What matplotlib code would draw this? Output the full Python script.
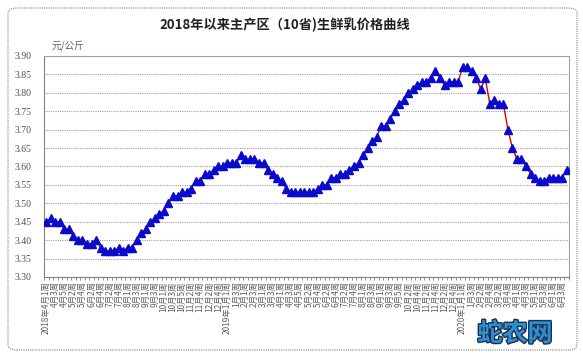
import matplotlib
matplotlib.use('Agg')
import matplotlib.pyplot as plt
from matplotlib.patches import FancyBboxPatch
import matplotlib.patheffects as pe
import numpy as np

plt.rcParams['font.family'] = ['Noto Sans CJK SC', 'DejaVu Sans']

# ---------------- data ----------------
title = "2018年以来主产区（10省)生鲜乳价格曲线"
unit_label = "元/公斤"

# (year, month, number of weeks shown)
month_weeks = [
    (2018, 4, 5), (2018, 5, 4), (2018, 6, 4), (2018, 7, 5), (2018, 8, 4),
    (2018, 9, 4), (2018, 10, 5), (2018, 11, 4), (2018, 12, 5),
    (2019, 1, 4), (2019, 2, 4), (2019, 3, 4), (2019, 4, 5), (2019, 5, 4),
    (2019, 6, 4), (2019, 7, 5), (2019, 8, 4), (2019, 9, 5), (2019, 10, 4),
    (2019, 11, 4), (2019, 12, 5),
    (2020, 1, 3), (2020, 2, 4), (2020, 3, 5), (2020, 4, 4), (2020, 5, 4),
    (2020, 6, 4),
]

prices = [
    3.45, 3.46, 3.45, 3.45, 3.43, 3.43, 3.41, 3.40, 3.40, 3.39,
    3.39, 3.40, 3.38, 3.37, 3.37, 3.37, 3.38, 3.37, 3.38, 3.38,
    3.40, 3.42, 3.43, 3.45, 3.46, 3.47, 3.48, 3.50, 3.52, 3.52,
    3.53, 3.53, 3.54, 3.56, 3.56, 3.58, 3.58, 3.59, 3.60, 3.60,
    3.61, 3.61, 3.61, 3.63, 3.62, 3.62, 3.62, 3.61, 3.61, 3.59,
    3.58, 3.57, 3.56, 3.54, 3.53, 3.53, 3.53, 3.53, 3.53, 3.53,
    3.54, 3.55, 3.55, 3.57, 3.57, 3.58, 3.58, 3.59, 3.60, 3.61,
    3.63, 3.65, 3.67, 3.68, 3.71, 3.71, 3.73, 3.75, 3.77, 3.78,
    3.80, 3.81, 3.82, 3.83, 3.83, 3.84, 3.86, 3.84, 3.82, 3.83,
    3.83, 3.83, 3.87, 3.87, 3.86, 3.84, 3.81, 3.84, 3.77, 3.78,
    3.77, 3.77, 3.70, 3.65, 3.62, 3.62, 3.60, 3.58, 3.57, 3.56,
    3.56, 3.57, 3.57, 3.57, 3.57, 3.59,
]

yticks = [3.30, 3.35, 3.40, 3.45, 3.50, 3.55, 3.60, 3.65, 3.70, 3.75, 3.80, 3.85, 3.90]

# build category labels
labels = []
for yr, mo, nw in month_weeks:
    for w in range(1, nw + 1):
        if mo == 1 and w == 1 or (yr == 2018 and mo == 4 and w == 1):
            labels.append(f"{yr}年{mo}月{w}周")
        else:
            labels.append(f"{mo}月{w}周")
labels = labels[:len(prices)]

# ---------------- figure ----------------
W, H = 583, 358
fig = plt.figure(figsize=(W / 100, H / 100), dpi=100)

# outer rounded dotted border
border = FancyBboxPatch((8 / W, 8 / H), 569 / W, 342 / H,
                        boxstyle="round,pad=0,rounding_size=0.015",
                        transform=fig.transFigure, fill=False,
                        edgecolor='#808080', linewidth=0.8, linestyle=(0, (1, 1)))
fig.patches.append(border)

ax = fig.add_axes([44 / W, 1 - 277 / H, (569 - 44) / W, (277 - 56) / H])

x = np.arange(len(prices))
ax.plot(x, prices, color='#E00000', linewidth=1.0, zorder=3)
ax.plot(x, prices, linestyle='none', marker='^', markersize=5.5,
        markerfacecolor='#0A0ACC', markeredgecolor='#0A0ACC', zorder=4)

ax.set_xlim(-0.5, len(prices) - 0.5)
ax.set_ylim(3.30, 3.90)
ax.set_yticks(yticks)
ax.set_yticklabels([f"{v:.2f}" for v in yticks], fontsize=7, color='#505050',
                   family=['Liberation Serif', 'DejaVu Serif'])
ax.tick_params(axis='y', length=0, pad=9)

ax.yaxis.grid(True, color='#a0a0a0', linestyle=(0, (1, 1)), linewidth=0.8)
ax.set_axisbelow(True)

for s in ['top', 'right']:
    ax.spines[s].set_color('#a0a0a0')
    ax.spines[s].set_linestyle((0, (1, 1)))
    ax.spines[s].set_linewidth(0.8)
ax.spines['left'].set_color('#808080')
ax.spines['left'].set_linewidth(0.8)
ax.spines['bottom'].set_color('#808080')
ax.spines['bottom'].set_linewidth(0.8)

ax.set_xticks(x[::2])
ax.set_xticklabels(labels[::2], rotation=90, fontsize=6, color='#606060',
                   va='top', ha='center')
ax.set_xticks(np.arange(-0.5, len(prices), 1), minor=True)
ax.tick_params(axis='x', which='major', length=0, pad=3)
ax.tick_params(axis='x', which='minor', length=2.5, color='#808080', width=0.6)

fig.text(285 / W, 1 - 25 / H, title, ha='center', va='center',
         fontsize=9.5, fontweight='bold', color='#202020')
fig.text(68 / W, 1 - 46 / H, unit_label, ha='center', va='center',
         fontsize=7, color='#606060')

# watermark
fig.text(515 / W, 1 - 334 / H, "蛇农网", ha='center', va='center',
         fontsize=18, fontweight='bold', color='#2E8FD0', style='italic',
         path_effects=[pe.withStroke(linewidth=2, foreground='#1a3050')])

fig.savefig('out.png', dpi=100)
